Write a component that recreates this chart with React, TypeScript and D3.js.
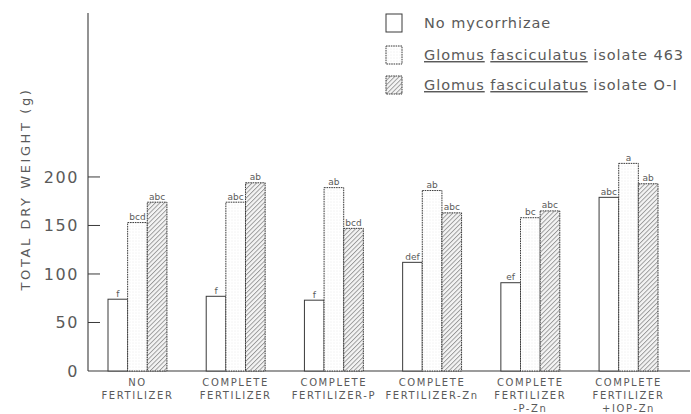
import * as d3 from "d3";
import React, { useEffect, useRef } from "react";

const treatments = [
  ["NO", "FERTILIZER"],
  ["COMPLETE", "FERTILIZER"],
  ["COMPLETE", "FERTILIZER-P"],
  ["COMPLETE", "FERTILIZER-Zn"],
  ["COMPLETE", "FERTILIZER", "-P-Zn"],
  ["COMPLETE", "FERTILIZER", "+IOP-Zn"],
];
const seriesNames = ["none", "isolate463", "isolateO1"];
const noMyco = [74, 77, 73, 112, 91, 179];
const iso463 = [153, 174, 189, 186, 158, 214];
const isoO1 = [174, 194, 147, 163, 165, 193];
const letters463 = ["bcd", "abc", "ab", "ab", "bc", "a"];
const lettersNone = ["f", "f", "f", "def", "ef", "abc"];
const lettersO1 = ["abc", "ab", "bcd", "abc", "abc", "ab"];
const yTicks = [0, 50, 100, 150, 200];

const W = 691;
const H = 414;
const INK = "#3a3a3a";
const TXT = "#5a5a5a";
const FONT = "'DejaVu Sans', sans-serif";

export default function App() {
  const svgRef = useRef<SVGSVGElement>(null);

  useEffect(() => {
    const svg = d3.select(svgRef.current);
    svg.selectAll("*").remove();

    const defs = svg.append("defs");
    const hatch = defs
      .append("pattern")
      .attr("id", "hatch")
      .attr("patternUnits", "userSpaceOnUse")
      .attr("width", 3.2)
      .attr("height", 3.2)
      .attr("patternTransform", "rotate(45)");
    hatch.append("rect").attr("width", 3.2).attr("height", 3.2).attr("fill", "#f4f4f4");
    hatch
      .append("line")
      .attr("x1", 0.5)
      .attr("x2", 0.5)
      .attr("y1", 0)
      .attr("y2", 3.2)
      .attr("stroke", "#8a8a8a")
      .attr("stroke-width", 0.8);

    const dots = defs
      .append("pattern")
      .attr("id", "dots")
      .attr("patternUnits", "userSpaceOnUse")
      .attr("width", 3)
      .attr("height", 3);
    dots.append("rect").attr("width", 3).attr("height", 3).attr("fill", "#fff");
    dots.append("circle").attr("cx", 1).attr("cy", 1).attr("r", 0.45).attr("fill", "#d8d8d8");

    const fills = ["#fff", "url(#dots)", "url(#hatch)"];
    const dashes = [null, "1.6 0.8", "1.6 0.8"];

    const y = d3.scaleLinear().domain([0, 369]).range([371, 13]);
    const x = d3
      .scaleBand()
      .domain(treatments.map((_, i) => String(i)))
      .range([108, 658])
      .paddingInner(0.4)
      .paddingOuter(0);
    const xs = d3.scaleBand().domain(seriesNames).range([0, x.bandwidth()]).padding(0);

    const values = [noMyco, iso463, isoO1];
    const letters = [lettersNone, letters463, lettersO1];

    // axes lines
    svg
      .append("line")
      .attr("x1", 88)
      .attr("x2", 88)
      .attr("y1", y(369))
      .attr("y2", y(0))
      .attr("stroke", INK)
      .attr("stroke-width", 1.1);
    svg
      .append("line")
      .attr("x1", 88)
      .attr("x2", 690)
      .attr("y1", y(0))
      .attr("y2", y(0))
      .attr("stroke", INK)
      .attr("stroke-width", 1.1);

    const ty = svg.append("g");
    ty.selectAll("line")
      .data(yTicks.filter((d) => d > 0))
      .enter()
      .append("line")
      .attr("x1", 88)
      .attr("x2", 100)
      .attr("y1", (d) => y(d))
      .attr("y2", (d) => y(d))
      .attr("stroke", INK);
    ty.selectAll("text")
      .data(yTicks)
      .enter()
      .append("text")
      .attr("x", 79)
      .attr("y", (d) => y(d))
      .attr("dy", "0.36em")
      .attr("text-anchor", "end")
      .attr("font-family", FONT)
      .attr("font-size", 16)
      .attr("letter-spacing", 1.6)
      .attr("fill", TXT)
      .text((d) => d);

    svg
      .append("text")
      .attr("transform", `translate(30,189) rotate(-90)`)
      .attr("text-anchor", "middle")
      .attr("font-family", FONT)
      .attr("font-size", 13)
      .attr("letter-spacing", 2.6)
      .attr("fill", TXT)
      .text("TOTAL DRY WEIGHT (g)");

    // bars
    seriesNames.forEach((s, si) => {
      const g = svg.append("g");
      g.selectAll("rect")
        .data(values[si])
        .enter()
        .append("rect")
        .attr("x", (_, i) => (x(String(i)) as number) + (xs(s) as number))
        .attr("y", (d) => y(d))
        .attr("width", xs.bandwidth())
        .attr("height", (d) => y(0) - y(d))
        .attr("fill", fills[si])
        .attr("stroke", INK)
        .attr("stroke-width", 1)
        .attr("stroke-dasharray", dashes[si]);
      g.selectAll("text")
        .data(values[si])
        .enter()
        .append("text")
        .attr("x", (_, i) => (x(String(i)) as number) + (xs(s) as number) + xs.bandwidth() / 2)
        .attr("y", (d) => y(d) - 2.5)
        .attr("text-anchor", "middle")
        .attr("font-family", FONT)
        .attr("font-size", 9)
        .attr("fill", TXT)
        .text((_, i) => letters[si][i]);
    });

    // category labels
    const cl = svg.append("g");
    treatments.forEach((lines, i) => {
      const cx = (x(String(i)) as number) + x.bandwidth() / 2;
      lines.forEach((t, li) => {
        cl.append("text")
          .attr("x", cx)
          .attr("y", 386 + li * 13)
          .attr("text-anchor", "middle")
          .attr("font-family", FONT)
          .attr("font-size", 10)
          .attr("letter-spacing", 1.6)
          .attr("fill", TXT)
          .text(t);
      });
    });

    // legend
    const leg = svg.append("g");
    const legY = [23, 55, 85];
    seriesNames.forEach((s, si) => {
      leg
        .append("rect")
        .attr("x", 386)
        .attr("y", legY[si] - 9)
        .attr("width", 16)
        .attr("height", 18)
        .attr("fill", fills[si])
        .attr("stroke", INK)
        .attr("stroke-dasharray", dashes[si]);
      const t = leg
        .append("text")
        .attr("x", 424)
        .attr("y", legY[si] + 5)
        .attr("font-family", FONT)
        .attr("font-size", 14.5)
        .attr("letter-spacing", 0.95)
        .attr("fill", TXT);
      if (si === 0) {
        t.text("No mycorrhizae");
      } else {
        t.append("tspan").attr("text-decoration", "underline").text("Glomus");
        t.append("tspan").text(" ");
        t.append("tspan").attr("text-decoration", "underline").text("fasciculatus");
        t.append("tspan").text(si === 1 ? " isolate 463" : " isolate O-I");
      }
    });
  }, []);

  return (
    <div style={{ position: "absolute", left: 0, top: 0 }}>
      <svg ref={svgRef} width={W} height={H} style={{ display: "block", background: "#fff" }}></svg>
    </div>
  );
}
